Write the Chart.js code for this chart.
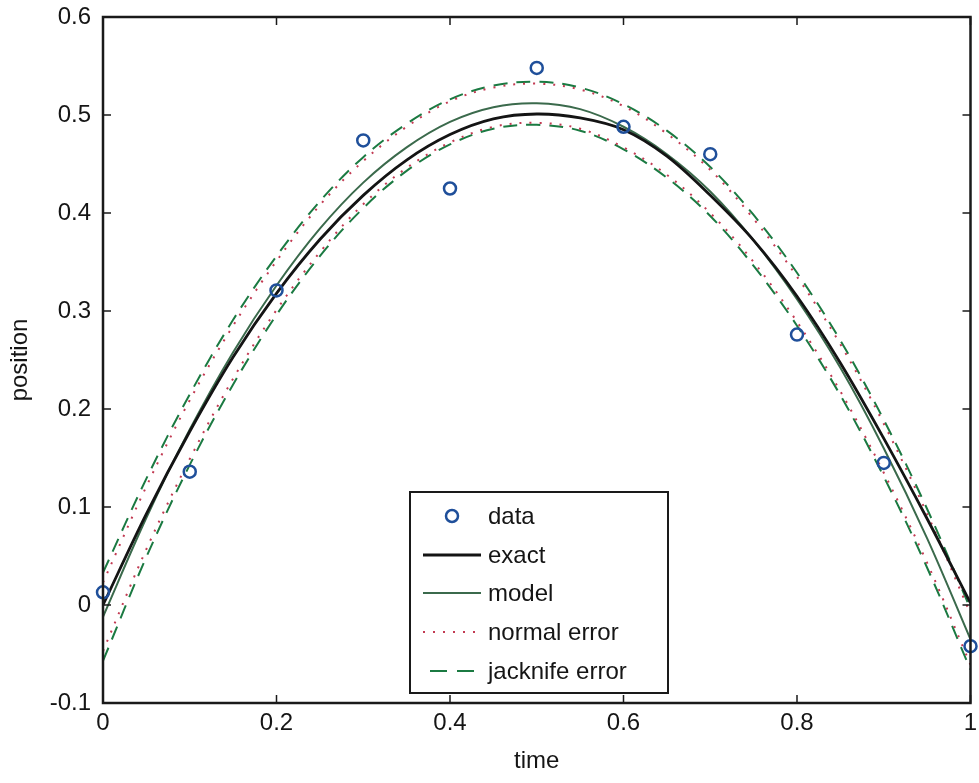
<!DOCTYPE html>
<html><head><meta charset="utf-8">
<script src="https://cdn.jsdelivr.net/npm/chart.js@4/dist/chart.umd.min.js"></script>
<style>html,body{margin:0;padding:0;background:#fff}#wrap{width:979px;height:783px}</style>
</head><body><div id="wrap"><canvas id="c" width="979" height="783"></canvas></div>
<script>
// ---- data ----
const curveTime = [0,0.05,0.1,0.15,0.2,0.25,0.3,0.35,0.4,0.45,0.5,0.55,0.6,0.65,0.7,0.75,0.8,0.85,0.9,0.95,1.0];
const exactPos = [0.000,0.093,0.177,0.253,0.318,0.373,0.418,0.454,0.480,0.496,0.501,0.497,0.485,0.458,0.418,0.372,0.315,0.247,0.170,0.088,0.002];
const modelPos = [-0.012,0.089,0.179,0.258,0.326,0.384,0.431,0.467,0.493,0.508,0.512,0.506,0.488,0.460,0.422,0.372,0.312,0.242,0.160,0.068,-0.035];
const normalUpper = [0.023,0.121,0.209,0.285,0.351,0.408,0.453,0.488,0.514,0.528,0.532,0.526,0.509,0.481,0.444,0.394,0.335,0.266,0.185,0.093,-0.009];
const normalLower = [-0.047,0.057,0.149,0.231,0.301,0.360,0.409,0.446,0.472,0.488,0.492,0.486,0.467,0.439,0.400,0.350,0.289,0.218,0.135,0.043,-0.061];
const jackUpper = [0.033,0.129,0.215,0.291,0.356,0.412,0.457,0.491,0.516,0.530,0.534,0.528,0.511,0.484,0.447,0.398,0.339,0.270,0.189,0.098,-0.004];
const jackLower = [-0.057,0.049,0.143,0.225,0.296,0.356,0.405,0.443,0.470,0.486,0.490,0.484,0.465,0.436,0.397,0.346,0.285,0.214,0.131,0.038,-0.066];
const dataTime = [0,0.1,0.2,0.3,0.4,0.5,0.6,0.7,0.8,0.9,1.0];
const dataPos = [0.013,0.136,0.321,0.474,0.425,0.548,0.488,0.460,0.276,0.145,-0.042];
const xTicks = [0,0.2,0.4,0.6,0.8,1];
const yTicks = [-0.1,0,0.1,0.2,0.3,0.4,0.5,0.6];
const legendLabels = ['data','exact','model','normal error','jacknife error'];

const pts = (xs, ys) => xs.map((x,i)=>({x:x,y:ys[i]}));
const FONT = '"Liberation Sans", Arial, sans-serif';
const TXT = '#151515';

const C_DATA = '#1f4f9a', C_EXACT = '#141414', C_MODEL = '#3b6a4c', C_NORM = '#c23a52', C_JACK = '#1b7a42';

const datasets = [
  {label:legendLabels[0], data:pts(dataTime,dataPos), showLine:false, pointRadius:6, pointBorderWidth:2.5, pointBorderColor:C_DATA, pointBackgroundColor:'rgba(0,0,0,0)', borderColor:C_DATA, clip:false, order:0},
  {label:legendLabels[1], data:pts(curveTime,exactPos), borderColor:C_EXACT, borderWidth:2.8, pointRadius:0, tension:0.35, order:1},
  {label:legendLabels[2], data:pts(curveTime,modelPos), borderColor:C_MODEL, borderWidth:2, pointRadius:0, tension:0.35, order:2},
  {label:legendLabels[3], data:pts(curveTime,normalUpper), borderColor:C_NORM, borderWidth:2, borderDash:[2,8], pointRadius:0, tension:0.35, order:3},
  {label:legendLabels[3]+' lo', data:pts(curveTime,normalLower), borderColor:C_NORM, borderWidth:2, borderDash:[2,8], pointRadius:0, tension:0.35, order:3},
  {label:legendLabels[4], data:pts(curveTime,jackUpper), borderColor:C_JACK, borderWidth:2, borderDash:[14,9], pointRadius:0, tension:0.35, order:4},
  {label:legendLabels[4]+' lo', data:pts(curveTime,jackLower), borderColor:C_JACK, borderWidth:2, borderDash:[14,9], pointRadius:0, tension:0.35, order:4}
];

const framePlugin = {
  id:'frame',
  afterDraw(chart){
    const ctx = chart.ctx, a = chart.chartArea;
    const xs = chart.scales.x, ys = chart.scales.y;
    ctx.save();
    ctx.strokeStyle = '#1a1a1a'; ctx.lineWidth = 2.5;
    ctx.strokeRect(a.left, a.top, a.right-a.left, a.bottom-a.top);
    ctx.lineWidth = 1.5;
    const L = 8;
    xTicks.forEach(v=>{
      const px = xs.getPixelForValue(v);
      ctx.beginPath(); ctx.moveTo(px,a.bottom); ctx.lineTo(px,a.bottom-L); ctx.moveTo(px,a.top); ctx.lineTo(px,a.top+L); ctx.stroke();
    });
    yTicks.forEach(v=>{
      const py = ys.getPixelForValue(v);
      ctx.beginPath(); ctx.moveTo(a.left,py); ctx.lineTo(a.left+L,py); ctx.moveTo(a.right,py); ctx.lineTo(a.right-L,py); ctx.stroke();
    });
    // legend box
    const bx=410, by=492, bw=258, bh=201;
    ctx.fillStyle='#fff'; ctx.fillRect(bx,by,bw,bh);
    ctx.lineWidth=2; ctx.strokeStyle='#1a1a1a'; ctx.strokeRect(bx,by,bw,bh);
    const rows=[516,555,593,632,671];
    const tx=488, l0=423, l1=481;
    ctx.font='24px '+FONT; ctx.fillStyle=TXT; ctx.textBaseline='middle'; ctx.textAlign='left';
    ctx.beginPath(); ctx.strokeStyle=C_DATA; ctx.lineWidth=2.5; ctx.arc(452,rows[0],6,0,Math.PI*2); ctx.stroke();
    const line=(y,col,w,dash)=>{ctx.beginPath();ctx.setLineDash(dash);ctx.strokeStyle=col;ctx.lineWidth=w;ctx.moveTo(l0,y);ctx.lineTo(l1,y);ctx.stroke();ctx.setLineDash([]);};
    line(rows[1],C_EXACT,2.8,[]);
    line(rows[2],C_MODEL,2,[]);
    line(rows[3],C_NORM,2,[2,8]);
    ctx.beginPath();ctx.setLineDash([17,10]);ctx.strokeStyle=C_JACK;ctx.lineWidth=2;ctx.moveTo(430,rows[4]);ctx.lineTo(478,rows[4]);ctx.stroke();ctx.setLineDash([]);
    ctx.fillStyle=TXT;
    legendLabels.forEach((t,i)=>ctx.fillText(t,tx,rows[i]+1));
    ctx.restore();
  }
};

new Chart(document.getElementById('c'), {
  type:'line',
  data:{datasets:datasets},
  options:{
    responsive:false, animation:false, devicePixelRatio:1,
    layout:{padding:{top:17,right:8,left:0,bottom:0}},
    plugins:{legend:{display:false}, tooltip:{enabled:false}},
    scales:{
      x:{type:'linear', min:0, max:1,
        afterFit(s){s.height=80; s.paddingLeft=0; s.paddingRight=0;},
        afterBuildTicks(s){s.ticks=xTicks.map(v=>({value:v}));},
        ticks:{padding:6, color:TXT, font:{family:FONT,size:24}, callback:v=>String(+v.toFixed(1))},
        grid:{display:false, drawTicks:false}, border:{display:false},
        title:{display:true, text:'time', color:TXT, font:{family:FONT,size:24}, padding:{top:0,bottom:7}}
      },
      y:{type:'linear', min:-0.1, max:0.6,
        afterFit(s){s.width=103; s.paddingTop=0; s.paddingBottom=0;},
        afterBuildTicks(s){s.ticks=yTicks.map(v=>({value:v}));},
        ticks:{padding:12, color:TXT, font:{family:FONT,size:24}, callback:v=>String(+v.toFixed(1))},
        grid:{display:false, drawTicks:false}, border:{display:false},
        title:{display:true, text:'position', color:TXT, font:{family:FONT,size:24}, padding:{top:6,bottom:0}}
      }
    }
  },
  plugins:[framePlugin]
});
</script></body></html>
